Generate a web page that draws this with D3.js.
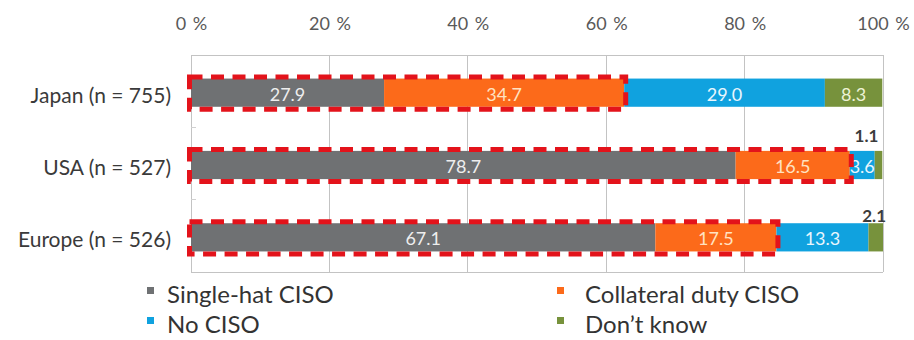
<!DOCTYPE html>
<html><head><meta charset="utf-8">
<script src="https://cdn.jsdelivr.net/npm/d3@7"></script>
<style>html,body{margin:0;padding:0;background:#fff;}svg{display:block;font-family:Lato,"Open Sans",sans-serif;}</style>
</head><body>
<svg id="chart" width="914" height="340"></svg>
<script>
const categories = ["Japan (n = 755)", "USA (n = 527)", "Europe (n = 526)"];
const seriesNames = ["Single-hat CISO", "Collateral duty CISO", "No CISO", "Don\u2019t know"];
const singleHat = [27.9, 78.7, 67.1];
const collateral = [34.7, 16.5, 17.5];
const noCiso = [29.0, 3.6, 13.3];
const dontKnow = [8.3, 1.1, 2.1];
const tickValues = [0, 20, 40, 60, 80, 100];
const tickLabels = ["0 %", "20 %", "40 %", "60 %", "80 %", "100 %"];

const colors = ["#6f7173", "#fc6a1a", "#10a2df", "#77923c"];
const labelColors = ["#eeeeee", "#ffe2c2", "#eaf6fd", "#eef2d6"];

const svg = d3.select("#chart");
const m = {left: 191, right: 883, top: 55, bottom: 272};
const x = d3.scaleLinear().domain([0, 100]).range([m.left, m.right]);
const y = d3.scaleBand().domain(categories).range([m.top, m.bottom]).paddingInner(0.61).paddingOuter(0.305);

const series = [singleHat, collateral, noCiso, dontKnow];
const rows = categories.map((c, i) => {
  const o = {cat: c};
  seriesNames.forEach((s, j) => o[s] = series[j][i]);
  return o;
});
const stacked = d3.stack().keys(seriesNames)(rows);

// grid
const g = svg.append("g");
g.selectAll("line.grid").data(tickValues).join("line")
  .attr("x1", d => x(d)).attr("x2", d => x(d))
  .attr("y1", m.top).attr("y2", m.bottom)
  .attr("stroke", "#c3c3c3").attr("stroke-width", 1).attr("shape-rendering", "crispEdges");
g.append("line").attr("x1", m.left).attr("x2", m.right).attr("y1", m.top).attr("y2", m.top)
  .attr("stroke", "#c3c3c3").attr("shape-rendering", "crispEdges");
g.append("line").attr("x1", m.left).attr("x2", m.right).attr("y1", m.bottom).attr("y2", m.bottom)
  .attr("stroke", "#c3c3c3").attr("shape-rendering", "crispEdges");
// category boundary ticks
const step = y.step();
g.selectAll("line.ctick").data(categories.slice(1)).join("line")
  .attr("x1", m.left).attr("x2", m.left + 5)
  .attr("y1", (d, i) => m.top + step * (i + 1)).attr("y2", (d, i) => m.top + step * (i + 1))
  .attr("stroke", "#d0d0d0").attr("shape-rendering", "crispEdges");

// top axis labels
const xAxis = d3.axisTop(x).tickValues(tickValues).tickFormat((d, i) => tickLabels[i]).tickSize(0);
const ax = svg.append("g").attr("transform", "translate(0,33)").call(xAxis);
ax.select(".domain").remove();
ax.selectAll("text").attr("font-size", 18).attr("fill", "#595959").attr("dy", 0)
  .attr("font-family", "Lato").attr("word-spacing", 2);

// category labels
svg.append("g").selectAll("text").data(categories).join("text")
  .attr("x", 171).attr("y", d => y(d) + y.bandwidth() / 2 + 3)
  .attr("text-anchor", "end").attr("dominant-baseline", "central")
  .attr("font-size", 21).attr("fill", "#3a3a3a").text(d => d);

const yOff = 1.5;
// bars
const layers = svg.append("g").selectAll("g").data(stacked).join("g")
  .attr("fill", (d, i) => colors[i]);
layers.selectAll("rect").data(d => d).join("rect")
  .attr("x", d => x(d[0])).attr("width", d => x(d[1]) - x(d[0]))
  .attr("y", d => y(d.data.cat) + yOff).attr("height", y.bandwidth());

// bar labels
const inside = (i, d) => !(i === 3 && d.data[seriesNames[3]] < 5);
stacked.forEach((layer, i) => {
  svg.append("g").selectAll("text").data(layer.filter(d => inside(i, d))).join("text")
    .attr("x", d => (x(d[0]) + x(d[1])) / 2)
    .attr("y", d => y(d.data.cat) + yOff + y.bandwidth() / 2 + 1)
    .attr("text-anchor", "middle").attr("dominant-baseline", "central")
    .attr("font-size", 18).attr("fill", labelColors[i])
    .text(d => d.data[seriesNames[i]].toFixed(1));
});
// small "Don't know" labels above bar
const outsideOff = {"USA (n = 527)": [-4, -9], "Europe (n = 526)": [3, -1]};
svg.append("g").selectAll("text").data(stacked[3].filter(d => !inside(3, d))).join("text")
  .attr("x", d => x(d[1]) + outsideOff[d.data.cat][0])
  .attr("y", d => y(d.data.cat) + yOff + outsideOff[d.data.cat][1])
  .attr("text-anchor", "end").attr("font-size", 17).attr("font-weight", "bold").attr("fill", "#3b3b3b")
  .text(d => d.data[seriesNames[3]].toFixed(1));

// red dashed highlight around single-hat + collateral
svg.append("g").selectAll("rect").data(stacked[1]).join("rect")
  .attr("x", x(0) - 1.5).attr("width", d => x(d[1]) - x(0) + 3)
  .attr("y", d => y(d.data.cat) + yOff - 1.5).attr("height", y.bandwidth() + 4)
  .attr("fill", "none").attr("stroke", "#e3131b").attr("stroke-width", 5)
  .attr("stroke-dasharray", "13,8.5");

// legend
const legendPos = [[147, 303, 20], [557, 303, 28], [147, 333, 20], [557, 333, 28]];
const lg = svg.append("g").selectAll("g").data(seriesNames).join("g")
  .attr("transform", (d, i) => `translate(${legendPos[i][0]},${legendPos[i][1]})`);
lg.append("rect").attr("x", 0).attr("y", -16).attr("width", 7).attr("height", 7)
  .attr("fill", (d, i) => colors[i]);
lg.append("text").attr("x", (d, i) => legendPos[i][2]).attr("y", 0).attr("font-size", 24).attr("fill", "#333")
  .text(d => d);
</script>
</body></html>
